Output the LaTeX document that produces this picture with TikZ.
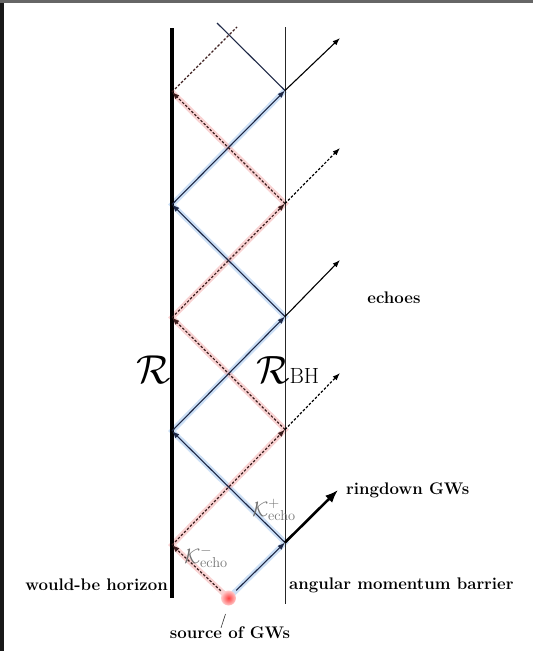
\documentclass[tikz,border=0pt]{standalone}
\usetikzlibrary{arrows.meta}
\definecolor{navy}{RGB}{30,40,70}
\definecolor{glowblue}{RGB}{165,200,240}
\definecolor{glowred}{RGB}{245,175,175}
\definecolor{dashcol}{RGB}{60,30,30}
\begin{document}
\begin{tikzpicture}[x=1pt,y=-1pt,
  tip/.style={-{Latex[length=7.5pt,width=5.5pt]}},
  bluewave/.style={tip,draw=navy,line width=1.1pt},
  redwave/.style={tip,draw=dashcol,line width=1.2pt,dash pattern=on 2.5pt off 1.8pt},
  blueglow/.style={draw=glowblue,line width=5.5pt,opacity=0.55},
  redglow/.style={draw=glowred,line width=5.5pt,opacity=0.55},
  escsolid/.style={tip,draw=black,line width=1.1pt},
  escdash/.style={tip,draw=black,line width=1.2pt,dash pattern=on 2.5pt off 1.8pt},
  lbl/.style={font=\fontsize{16.8}{18}\selectfont\bfseries,inner sep=0pt},
  klbl/.style={text=black!55,inner sep=0pt}]
\useasboundingbox (0,0) rectangle (533,651);
\fill[white] (0,0) rectangle (533,651);
\fill[black!90] (0,0) rectangle (4,651);
\fill[black!60] (0,0) rectangle (533,2.5);
% walls
\coordinate (LWt) at (172,28);
\coordinate (LWb) at (172,598);
\coordinate (RWt) at (285,27);
\coordinate (RWb) at (285,604);
% bounce points
\coordinate (S) at (228.5,598);
\coordinate (R1) at (285,542.5);
\coordinate (R2) at (285,429.5);
\coordinate (R3) at (285,316.5);
\coordinate (R4) at (285,203.5);
\coordinate (R5) at (285,90.5);
\coordinate (L1) at (172,545);
\coordinate (L2) at (172,431);
\coordinate (L3) at (172,317.5);
\coordinate (L4) at (172,204.5);
\coordinate (L5) at (172,92);
\coordinate (T1) at (237,27);
\coordinate (T2) at (217,23);
% escape ends
\coordinate (E1) at (338,490);
\coordinate (E2) at (340,373);
\coordinate (E3) at (340,260);
\coordinate (E4) at (340,148);
\coordinate (E5) at (340,38);
% glows
\draw[blueglow] (S) -- (R1) -- (L2) -- (R3) -- (L4) -- (R5);
\draw[redglow] (S) -- (L1) -- (R2) -- (L3) -- (R4) -- (L5);
% walls
\draw[line width=4pt,black] (LWt) -- (LWb);
\draw[line width=0.9pt,black!85] (RWt) -- (RWb);
% source
\shade[inner color=red!75,outer color=red!20] (S) circle (7.5);
\node[inner sep=0pt,minimum size=15pt] (src) at (S) {};
% blue path
\draw[bluewave] (src) -- (R1);
\draw[bluewave] (R1) -- (L2);
\draw[bluewave] (L2) -- (R3);
\draw[bluewave] (R3) -- (L4);
\draw[bluewave] (L4) -- (R5);
\draw[navy,line width=1.1pt] (R5) -- (T2);
% red path
\draw[redwave] (src) -- (L1);
\draw[redwave] (L1) -- (R2);
\draw[redwave] (R2) -- (L3);
\draw[redwave] (L3) -- (R4);
\draw[redwave] (R4) -- (L5);
\draw[dashcol,line width=1.2pt,dash pattern=on 2.5pt off 1.8pt] (L5) -- (T1);
% escapes
\draw[-{Latex[length=13pt,width=10pt]},line width=2.6pt] (R1) -- (E1);
\draw[escdash] (R2) -- (E2);
\draw[escsolid] (R3) -- (E3);
\draw[escdash] (R4) -- (E4);
\draw[escsolid] (R5) -- (E5);
% labels
\node[inner sep=0pt,anchor=base east] (Rlab) at (171,383) {\fontsize{20.74}{22}\selectfont\scalebox{1.95}{$\mathcal{R}$}};
\node[inner sep=0pt,anchor=base west] (RBHlab) at (256,383) {\fontsize{20.74}{22}\selectfont\scalebox{1.9}{$\mathcal{R}$}\fontsize{22}{22}\selectfont BH};
\node[lbl] (echoes) at (394,298) {echoes};
\node[lbl,anchor=west] (ring) at (346,490) {ringdown GWs};
\node[lbl,anchor=east] (wbh) at (168,585) {would-be horizon};
\node[lbl,anchor=west] (amb) at (289,585) {angular momentum barrier};
\node[lbl] (srclab) at (230,633) {source of GWs};
\draw[black!80,line width=0.6pt] (225.5,614) -- ([xshift=-9pt,yshift=-1pt]srclab.north);
\node[klbl] (kp) at (274,510) {\fontsize{20.74}{22}\selectfont$\mathcal{K}^{+}_{\mathrm{echo}}$};
\node[klbl] (km) at (206,557) {\fontsize{20.74}{22}\selectfont$\mathcal{K}^{-}_{\mathrm{echo}}$};
\end{tikzpicture}
\end{document}
